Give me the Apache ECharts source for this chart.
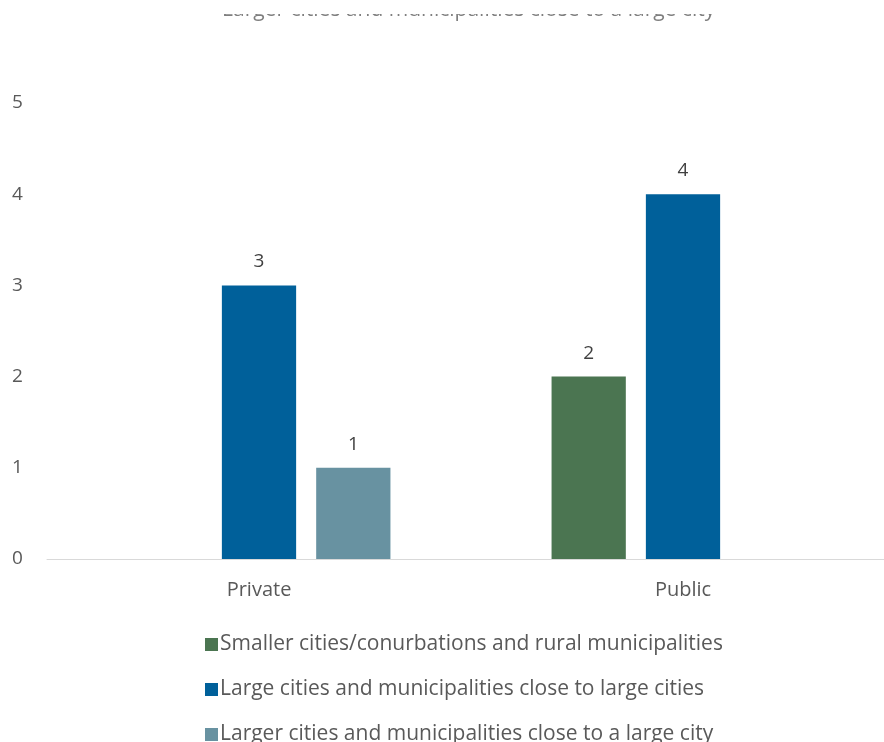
<!DOCTYPE html>
<html><head><meta charset="utf-8">
<script src="https://cdn.jsdelivr.net/npm/echarts@6/dist/echarts.min.js"></script>
<style>html,body{margin:0;padding:0;background:#fff;overflow:hidden}#c{width:895px;height:742px}</style>
</head><body><div id="c"></div>
<script>
var categories = ['Private', 'Public'];
var seriesNames = ['Smaller cities/conurbations and rural municipalities', 'Large cities and municipalities close to large cities', 'Larger cities and municipalities close to a large city'];
var smallerValues = [null, 2];
var largeValues = [3, 4];
var largerValues = [1, null];
var yTicks = [0, 1, 2, 3, 4, 5];
var topText = 'Larger cities and municipalities close to a large city';
var colors = ['#4B7551', '#00609A', '#6892A1'];
var font = 'Open Sans';
var chart = echarts.init(document.getElementById('c'));
var lbl = {show: true, position: 'top', distance: 14, color: '#404040', fontSize: 19, fontFamily: font};
chart.setOption({
  animation: false,
  color: colors,
  graphic: [
    {type: 'text', left: 222, top: 0, z: 1, style: {text: topText, fill: '#7f7f7f', fontSize: 21, fontFamily: font}},
    {type: 'rect', left: 0, top: 0, z: 2, shape: {width: 884, height: 14}, style: {fill: '#ffffff'}}
  ],
  grid: {left: 47, right: 0, top: 103, bottom: 183, containLabel: false},
  legend: {orient: 'vertical', left: 200, top: 629, height: 200, itemGap: 24, itemWidth: 13, itemHeight: 13, icon: 'rect',
    textStyle: {color: '#595959', fontSize: 21, fontFamily: font, padding: [0, 0, 0, -3]}, data: seriesNames},
  xAxis: {type: 'category', data: categories, axisTick: {show: false},
    axisLine: {lineStyle: {color: '#d9d9d9', width: 1}},
    axisLabel: {color: '#595959', fontSize: 20, fontFamily: font, margin: 21}},
  yAxis: {type: 'value', min: yTicks[0], max: yTicks[yTicks.length - 1], interval: 1,
    splitLine: {show: false}, axisLine: {show: false}, axisTick: {show: false},
    axisLabel: {color: '#595959', fontSize: 19, fontFamily: font, margin: 35, align: 'left'}},
  series: [
    {name: seriesNames[0], type: 'bar', data: smallerValues, barGap: '27%', barCategoryGap: '38%', label: lbl},
    {name: seriesNames[1], type: 'bar', data: largeValues, label: lbl},
    {name: seriesNames[2], type: 'bar', data: largerValues, label: lbl}
  ]
});
</script></body></html>
